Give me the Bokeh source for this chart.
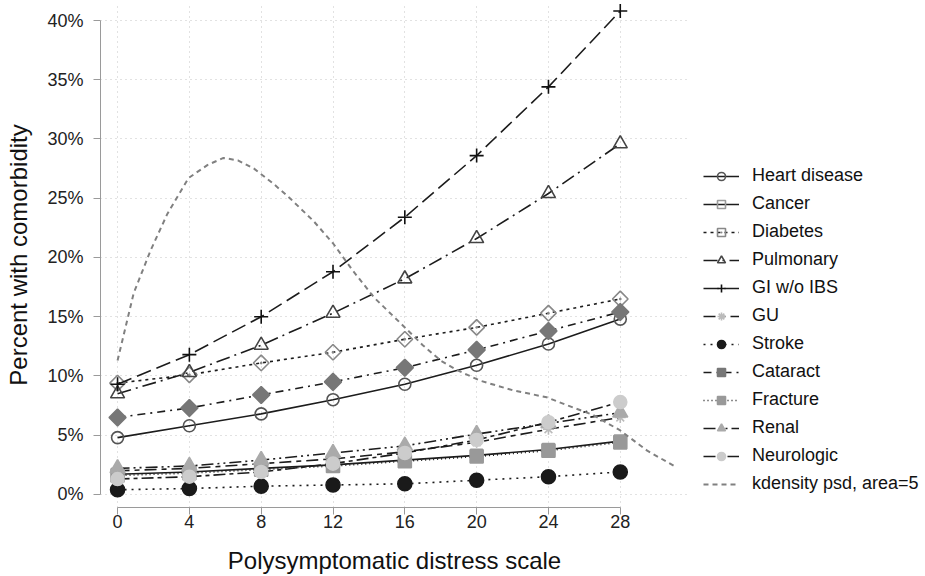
import math
from bokeh.plotting import figure
from bokeh.models import (Range1d, FixedTicker, PrintfTickFormatter, Legend, LegendItem)
from bokeh.embed import file_html
from bokeh.resources import INLINE

# ---- data ----
psd = [0, 4, 8, 12, 16, 20, 24, 28]
heart = [4.8, 5.8, 6.8, 8.0, 9.3, 10.9, 12.7, 14.8]
cancer = [1.7, 1.9, 2.2, 2.5, 2.9, 3.3, 3.8, 4.5]
diabetes = [9.4, 10.1, 11.1, 12.0, 13.1, 14.1, 15.3, 16.5]
pulmonary = [8.5, 10.3, 12.6, 15.3, 18.2, 21.6, 25.4, 29.6]
gi = [9.3, 11.8, 15.0, 18.8, 23.4, 28.6, 34.4, 40.8]
gu = [2.0, 2.2, 2.6, 3.0, 3.6, 4.4, 5.5, 6.5]
stroke = [0.4, 0.5, 0.7, 0.8, 0.9, 1.2, 1.5, 1.9]
cataract = [6.5, 7.3, 8.4, 9.5, 10.7, 12.2, 13.8, 15.4]
fracture = [1.6, 1.8, 2.1, 2.4, 2.8, 3.2, 3.7, 4.4]
renal = [2.2, 2.4, 2.9, 3.5, 4.1, 5.1, 6.0, 6.9]
neuro = [1.3, 1.5, 1.9, 2.6, 3.5, 4.6, 6.1, 7.8]

kd_x = [0, 0.9, 1.84, 2.78, 3.95, 5.0, 5.9, 6.7, 7.6, 8.7, 9.6, 10.9, 12.0,
        13.1, 14.3, 15.8, 17.0, 18.0, 18.9, 20.2, 22.0, 23.9, 25.1, 26.5,
        28.0, 29.5, 31.0]
kd_y = [11.3, 17.0, 20.6, 23.7, 26.7, 27.8, 28.4, 28.2, 27.5, 26.2, 25.0, 23.1,
        21.2, 18.9, 16.6, 14.4, 12.6, 11.3, 10.5, 9.6, 8.8, 8.2, 7.5, 6.7,
        5.4, 3.7, 2.4]

x_ticks = [0, 4, 8, 12, 16, 20, 24, 28]
y_ticks = [0, 5, 10, 15, 20, 25, 30, 35, 40]

FONT = "Liberation Sans"

p = figure(frame_width=588, frame_height=505,
           output_backend="svg", toolbar_location=None,
           x_range=Range1d(-0.95, 31.8), y_range=Range1d(-1.1, 41.52),
           min_border_left=100, min_border_top=2, min_border_right=236,
           min_border_bottom=64)
p.outline_line_color = None
p.background_fill_color = "white"
p.border_fill_color = "white"

# axes
for ax in (p.xaxis[0], p.yaxis[0]):
    ax.axis_line_color = "#9a9a9a"
    ax.major_tick_line_color = "#9a9a9a"
    ax.major_tick_out = 7
    ax.major_tick_in = 0
    ax.minor_tick_line_color = None
    ax.major_label_text_font = FONT
    ax.major_label_text_color = "#222222"
    ax.major_label_text_font_size = "18px"
    ax.axis_label_text_font = FONT
    ax.axis_label_text_font_style = "normal"
    ax.axis_label_text_font_size = "24px"
    ax.axis_label_text_color = "#111111"

p.xaxis.ticker = FixedTicker(ticks=x_ticks)
p.yaxis.ticker = FixedTicker(ticks=y_ticks)
p.xaxis.bounds = (x_ticks[0], x_ticks[-1])
p.yaxis.bounds = (y_ticks[0], y_ticks[-1])
p.yaxis.formatter = PrintfTickFormatter(format="%d%%")
p.xaxis.axis_label = "Polysymptomatic distress scale"
p.yaxis.axis_label = "Percent with comorbidity"
p.xaxis.major_label_standoff = 0
p.yaxis.major_label_standoff = 10
p.xaxis.axis_label_standoff = 16
p.yaxis.axis_label_standoff = 12

p.xgrid.ticker = FixedTicker(ticks=x_ticks)
p.ygrid.ticker = FixedTicker(ticks=y_ticks)
for g in (p.xgrid[0], p.ygrid[0]):
    g.grid_line_color = "#c4c4c4"
    g.grid_line_dash = "1 4"
    g.grid_line_width = 1

LC = "#1c1c1c"
Q = math.pi / 4
# name, values, dash, marker, fill, marker line colour, size, angle
series = [
    ("Heart disease", heart, "solid", "circle", None, "#555555", 12, 0),
    ("Cancer", cancer, "solid", "square", None, "#9a9a9a", 12, 0),
    ("Diabetes", diabetes, "3 4", "square_dot", None, "#888888", 11, Q),
    ("Pulmonary", pulmonary, "14 5 2 5", "triangle", None, "#444444", 14, 0),
    ("GI w/o IBS", gi, "15 6", "cross", None, "#111111", 14, 0),
    ("GU", gu, "12 5 5 5", "asterisk", None, "#bbbbbb", 11, 0),
    ("Stroke", stroke, "2 5", "circle", "#1a1a1a", "#1a1a1a", 14, 0),
    ("Cataract", cataract, "8 5 2 5", "square", "#777777", "#777777", 12, Q),
    ("Fracture", fracture, "1 3", "square", "#999999", "#999999", 13, 0),
    ("Renal", renal, "12 4 2 4 2 4", "triangle", "#aaaaaa", "#aaaaaa", 15, 0),
    ("Neurologic", neuro, "12 4 4 4", "circle", "#cccccc", "#cccccc", 13, 0),
]

items = []
for name, ys, dash, marker, fill, mline, size, ang in series:
    lr = p.line(psd, ys, line_color=LC, line_width=1.6, line_dash=dash)
    sr = p.scatter(psd, ys, marker=marker, size=size, angle=ang,
                   fill_color=fill, fill_alpha=1.0 if fill else 0.0,
                   line_color=mline, line_width=1.6)
    items.append(LegendItem(label=name, renderers=[lr, sr]))

kr = p.line(kd_x, kd_y, line_color="#808080", line_width=2, line_dash="5 4")
items.append(LegendItem(label="kdensity psd, area=5", renderers=[kr]))

legend = Legend(items=items, location=(15, 13))
legend.padding = 0
legend.margin = 0
legend.spacing = 7
legend.glyph_width = 36
legend.glyph_height = 20
legend.label_height = 20
legend.label_standoff = 13
legend.label_text_font = FONT
legend.label_text_font_size = "18px"
legend.label_text_color = "#111111"
legend.border_line_alpha = 0
legend.background_fill_alpha = 0
p.add_layout(legend, "right")

open("out.html", "w").write(file_html(p, INLINE))
